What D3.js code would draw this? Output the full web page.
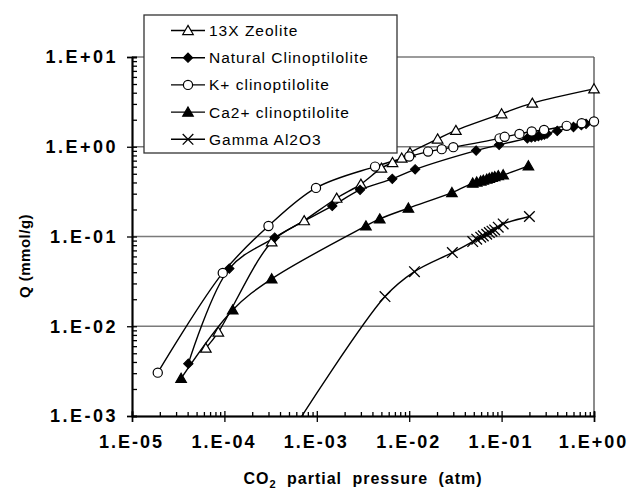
<!DOCTYPE html>
<html>
<head>
<meta charset="utf-8">
<script src="https://cdn.jsdelivr.net/npm/d3@7"></script>
<style>
  html, body { margin: 0; padding: 0; background: #fff; }
  svg { display: block; }
  text { font-family: "Liberation Sans", Arial, Helvetica, sans-serif; fill: #000; }
</style>
</head>
<body>
<svg id="chart" width="630" height="490"></svg>
<script>
// ---------- DATA (CO2 partial pressure [atm], Q [mmol/g]) ----------
const seriesNames = ["13X Zeolite", "Natural  Clinoptilolite", "K+  clinoptilolite", "Ca2+  clinoptilolite", "Gamma  Al2O3"];

const zeolite13X = [
  [6.3e-5, 0.0057], [8.6e-5, 0.0086], [3.25e-4, 0.087], [7.3e-4, 0.15], [1.64e-3, 0.267],
  [3.0e-3, 0.383], [5.0e-3, 0.577], [6.6e-3, 0.667], [8.3e-3, 0.747], [1.02e-2, 0.861],
  [2.03e-2, 1.22], [3.2e-2, 1.52], [0.1, 2.33], [0.215, 3.06], [1.0, 4.42]
];

const naturalClino = [
  [4.07e-5, 0.00383], [1.13e-4, 0.0439], [3.5e-4, 0.0973], [1.47e-3, 0.219], [2.94e-3, 0.331],
  [6.56e-3, 0.439], [1.16e-2, 0.56], [5.3e-2, 0.907], [9.4e-2, 1.05],
  [0.19, 1.24], [0.21, 1.27], [0.23, 1.29], [0.25, 1.31], [0.27, 1.34], [0.29, 1.37], [0.31, 1.40],
  [0.40, 1.50], [0.60, 1.66], [0.73, 1.74], [0.82, 1.80]
];

const kClino = [
  [1.9e-5, 0.00304], [9.6e-5, 0.0393], [3.0e-4, 0.131], [9.8e-4, 0.348], [4.27e-3, 0.601],
  [1.0e-2, 0.778], [1.6e-2, 0.883], [2.25e-2, 0.94], [3.0e-2, 0.99],
  [0.095, 1.24], [0.108, 1.29], [0.156, 1.39], [0.212, 1.48], [0.288, 1.54],
  [0.506, 1.71], [0.736, 1.83], [1.0, 1.91]
];

const caClino = [
  [3.4e-5, 0.00263], [1.23e-4, 0.0152], [3.25e-4, 0.0337], [3.4e-3, 0.131], [4.8e-3, 0.157],
  [9.8e-3, 0.207], [2.9e-2, 0.308],
  [0.0487, 0.393], [0.0538, 0.404], [0.0594, 0.415], [0.0634, 0.424], [0.069, 0.435],
  [0.0736, 0.444], [0.0787, 0.455], [0.0842, 0.464], [0.092, 0.476], [0.104, 0.486],
  [0.195, 0.612]
];

const gammaAl2O3 = [
  [6.0e-4, 0.0008], [5.47e-3, 0.0214], [1.14e-2, 0.0406], [2.93e-2, 0.0662],
  [0.0487, 0.0878], [0.0538, 0.0933], [0.0594, 0.0982], [0.0634, 0.1016], [0.069, 0.106],
  [0.0736, 0.1105], [0.0787, 0.1146], [0.0842, 0.1185], [0.092, 0.127], [0.104, 0.138],
  [0.2, 0.167]
];

const xMajorTicks = [1e-5, 1e-4, 1e-3, 1e-2, 1e-1, 1];
const xTickLabels = ["1.E-05", "1.E-04", "1.E-03", "1.E-02", "1.E-01", "1.E+00"];
const yMajorTicks = [1e-3, 1e-2, 1e-1, 1, 10];
const yTickLabels = ["1.E-03", "1.E-02", "1.E-01", "1.E+00", "1.E+01"];
const gridValues = [1e-2, 1e-1, 1, 10];

// ---------- LAYOUT ----------
const svg = d3.select("#chart");
const L = 132, R = 594, T = 57, B = 416;
const x = d3.scaleLog().domain([1e-5, 1]).range([L, R]);
const y = d3.scaleLog().domain([1e-3, 10]).range([B, T]);

function minors(majors) {
  const out = [];
  for (let i = 0; i < majors.length - 1; i++)
    for (let k = 2; k <= 9; k++) out.push(majors[i] * k);
  return out;
}

// gridlines
svg.append("g").selectAll("line").data(gridValues).join("line")
  .attr("x1", L).attr("x2", R)
  .attr("y1", d => y(d)).attr("y2", d => y(d))
  .attr("stroke", "#7a7a7a").attr("stroke-width", 1.4);

// right border
svg.append("line").attr("x1", R).attr("x2", R).attr("y1", T).attr("y2", B)
  .attr("stroke", "#5a5a5a").attr("stroke-width", 1.4);

// clip
svg.append("clipPath").attr("id", "plotclip").append("rect")
  .attr("x", L).attr("y", T - 8).attr("width", R - L + 8).attr("height", B - T + 8);

const series = [
  { data: zeolite13X, marker: "triOpen" },
  { data: naturalClino, marker: "diamond" },
  { data: kClino, marker: "circle" },
  { data: caClino, marker: "triFilled" },
  { data: gammaAl2O3, marker: "x" }
];

const line = d3.line()
  .x(d => x(d[0])).y(d => y(d[1]))
  .curve(d3.curveCatmullRom.alpha(0.5));

const plot = svg.append("g").attr("clip-path", "url(#plotclip)");

series.forEach(s => {
  plot.append("path").datum(s.data).attr("d", line)
    .attr("fill", "none").attr("stroke", "#000").attr("stroke-width", 1.4);
});

function drawMarker(g, type, cx, cy) {
  if (type === "triOpen" || type === "triFilled") {
    g.append("path").attr("d", d3.symbol(d3.symbolTriangle, 48)())
      .attr("transform", `translate(${cx},${cy + 1})`)
      .attr("fill", type === "triOpen" ? "#fff" : "#000")
      .attr("stroke", "#000").attr("stroke-width", 1.2);
  } else if (type === "diamond") {
    g.append("path").attr("d", d3.symbol(d3.symbolSquare, 44)())
      .attr("transform", `translate(${cx},${cy}) rotate(45)`)
      .attr("fill", "#000").attr("stroke", "#000").attr("stroke-width", 1);
  } else if (type === "circle") {
    g.append("circle").attr("cx", cx).attr("cy", cy).attr("r", 4.6)
      .attr("fill", "#fff").attr("stroke", "#000").attr("stroke-width", 1.2);
  } else if (type === "x") {
    g.append("path").attr("d", d3.symbol(d3.symbolX, 75)())
      .attr("transform", `translate(${cx},${cy})`)
      .attr("fill", "none").attr("stroke", "#000").attr("stroke-width", 1.3);
  }
}

series.forEach(s => {
  const g = plot.append("g");
  s.data.forEach(d => {
    if (d[1] >= 1e-3) drawMarker(g, s.marker, x(d[0]), y(d[1]));
  });
});

// ---------- AXES ----------
const tickFont = (g, ls) => g.selectAll("text")
  .style("font-size", "18px").style("font-weight", "bold").style("letter-spacing", ls)
  .attr("fill", "#000");
const axisStyle = g => { g.select(".domain").attr("stroke", "#000").attr("stroke-width", 1.5);
  g.selectAll(".tick line").attr("stroke", "#000").attr("stroke-width", 1.3); };

// Y axis
svg.append("g").attr("transform", `translate(${L},0)`)
  .call(d3.axisLeft(y).tickValues(yMajorTicks).tickSize(5).tickPadding(9)
    .tickFormat((d, i) => yTickLabels[i]))
  .call(axisStyle).call(tickFont, "2.5px")
  .call(g => g.selectAll("text").attr("font-family", null));
svg.append("g").attr("transform", `translate(${L},0)`)
  .call(d3.axisLeft(y).tickValues(yMajorTicks).tickSize(-5).tickFormat(""))
  .call(axisStyle);
svg.append("g").attr("transform", `translate(${L},0)`)
  .call(d3.axisLeft(y).tickValues(minors(yMajorTicks)).tickSize(-5).tickFormat(""))
  .call(axisStyle);

// X axis
svg.append("g").attr("transform", `translate(0,${B})`)
  .call(d3.axisBottom(x).tickValues(xMajorTicks).tickSize(6).tickPadding(13)
    .tickFormat((d, i) => xTickLabels[i]))
  .call(axisStyle).call(tickFont, "2px")
  .call(g => g.selectAll("text").attr("font-family", null).attr("dx", "-1px"));
svg.append("g").attr("transform", `translate(0,${B})`)
  .call(d3.axisBottom(x).tickValues(xMajorTicks).tickSize(-5).tickFormat(""))
  .call(axisStyle);
svg.append("g").attr("transform", `translate(0,${B})`)
  .call(d3.axisBottom(x).tickValues(minors(xMajorTicks)).tickSize(-4).tickFormat(""))
  .call(axisStyle);

// axis titles
const xt = svg.append("text").attr("x", (L + R) / 2).attr("y", 484)
  .attr("text-anchor", "middle")
  .style("font-size", "16px").style("font-weight", "bold")
  .style("letter-spacing", "1px").style("word-spacing", "5px");
xt.append("tspan").text("CO");
xt.append("tspan").text("2").attr("dy", 4).style("font-size", "11px");
xt.append("tspan").text(" partial pressure (atm)").attr("dy", -4);

svg.append("text").attr("transform", "translate(30,256) rotate(-90)")
  .attr("text-anchor", "middle")
  .style("font-size", "15px").style("font-weight", "bold").style("letter-spacing", "0.5px")
  .text("Q (mmol/g)");

// ---------- LEGEND ----------
const lg = svg.append("g");
lg.append("rect").attr("x", 144).attr("y", 15).attr("width", 253).attr("height", 138)
  .attr("fill", "#fff").attr("stroke", "#333").attr("stroke-width", 1.3);
series.forEach((s, i) => {
  const cy = 30.5 + i * 27.2;
  lg.append("line").attr("x1", 171).attr("x2", 205).attr("y1", cy).attr("y2", cy)
    .attr("stroke", "#000").attr("stroke-width", 1.4);
  drawMarker(lg, s.marker, 188, cy);
  lg.append("text").attr("x", 209).attr("y", cy).attr("dy", "0.36em")
    .style("font-size", "15.5px").style("letter-spacing", "1px")
    .text(seriesNames[i]);
});
</script>
</body>
</html>
